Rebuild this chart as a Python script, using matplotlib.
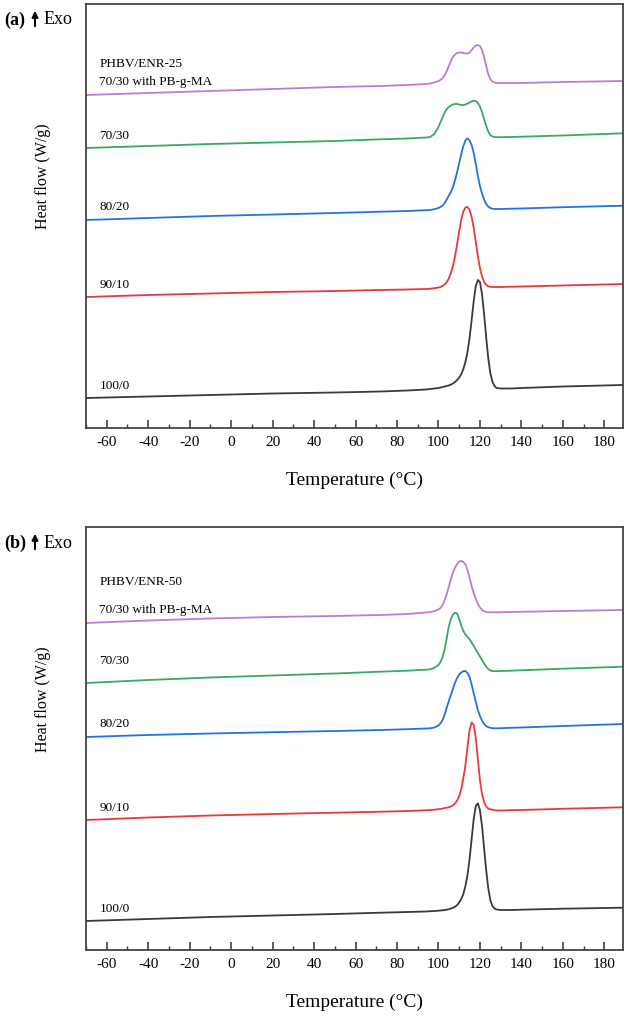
import matplotlib
matplotlib.use("Agg")
import matplotlib.pyplot as plt
from matplotlib.ticker import MultipleLocator

plt.rcParams['font.family'] = ['Liberation Serif', 'DejaVu Serif']
plt.rcParams['axes.unicode_minus'] = False

temperature = [-70, -40, -10, 20, 50, 72, 85, 94, 96, 98,
               100, 101, 102, 103, 104, 105, 106, 107, 108, 109, 110, 111, 112, 113, 114,
               115, 116, 117, 118, 119, 120, 121, 122, 123, 124, 125, 126, 127, 128,
               130, 135, 140, 160, 189]

# Panel (a): PHBV/ENR-25 (arbitrary stacked heat-flow units)
a_pbgma = [333, 335, 337, 339, 341, 342, 343, 344, 344.5, 345.5,
           347, 348, 350, 353, 357, 362, 367, 371, 373.5, 375, 375.5, 375.5, 375, 374.5, 374.5,
           375.5, 378, 380.5, 382.5, 383, 382, 378, 371, 362, 354, 349, 346.5, 345.5, 345,
           345, 345, 345, 346, 347]
a_7030 = [280, 282, 284, 285.5, 287, 288.7, 289.5, 290.5, 291, 294,
          301, 306, 311, 315.5, 319, 321, 322.5, 323.5, 324, 324, 323.5, 323, 323, 323.5, 324.5,
          325.5, 326.5, 327.3, 327, 325, 321.5, 316, 309, 302, 296.5, 293, 291.5, 291, 290.8,
          290.8, 291, 291.3, 292.5, 294.7]
a_8020 = [208, 210, 212, 213.5, 215, 216.3, 217, 217.8, 218, 218.8,
          220, 221, 222.5, 225, 228.5, 232.5, 236, 241, 248, 256, 265, 274, 282, 287.5, 289.7,
          287.5, 283, 275, 264, 252, 242, 234.5, 228.5, 224, 221.5, 220, 219.3, 219, 219,
          219, 219.3, 219.5, 220.8, 222.3]
a_9010 = [131, 133, 134.5, 136, 137, 138, 138.5, 139, 139.3, 139.8,
          140.5, 141, 142, 143.5, 146, 149.5, 155, 162, 172, 184, 197, 208.5, 216.5, 220.5, 221,
          218, 211, 200, 186, 172, 160, 151.5, 146, 143, 141.8, 141.3, 141, 141, 141,
          141, 141.3, 141.5, 142.5, 144]
a_1000 = [30, 31.5, 33, 34.5, 35.5, 36.5, 37.5, 38.5, 39, 39.5,
          40, 40.5, 41, 41.5, 42, 42.5, 43.5, 44.5, 46, 48, 50.5, 54, 59, 66, 76,
          90, 108, 127, 142, 148, 146, 134, 114, 91, 70, 55, 46.5, 42, 40,
          39.5, 39.5, 40, 41.5, 43]

# Panel (b): PHBV/ENR-50
b_pbgma = [327, 329.5, 331.5, 333, 334, 335, 336, 337.5, 338, 338.8,
           340.5, 342, 345, 350, 356, 363.5, 371, 377.5, 382.5, 386, 388.5, 389, 388, 385.5, 380,
           372.5, 364, 357, 351, 346, 342.5, 340, 338.8, 338, 337.8, 337.7, 337.7, 337.7, 337.7,
           337.8, 338, 338.2, 339, 340]
b_7030 = [267, 270, 272.5, 274.5, 276.5, 278.3, 279.3, 280.3, 280.7, 282,
          285, 288, 293, 301, 312, 323.5, 331, 335.5, 337.3, 336.5, 331, 324.5, 319, 315.5, 313,
          310.7, 307.5, 304, 300.5, 297, 293.5, 290, 286.5, 283.5, 281, 279.5, 279, 278.8, 278.8,
          279, 279.3, 279.7, 281.3, 283.3]
b_8020 = [213, 215, 216.5, 217.8, 219, 220, 220.8, 221.5, 221.7, 222.5,
          224.5, 226.7, 230, 235.5, 242.5, 249, 255, 261.5, 267.5, 272, 275.5, 277.5, 278.8, 279, 277,
          273, 265.5, 256.7, 248, 240, 234, 229.5, 226, 224, 222.8, 222.2, 221.8, 221.7, 221.7,
          221.8, 222.2, 222.5, 224, 226]
b_9010 = [130, 132.5, 134.5, 136, 137.3, 138.3, 139, 139.7, 140, 140.3,
          140.8, 141, 141.5, 142, 142.3, 142.7, 143.5, 144.5, 146.5, 149.5, 154, 161, 172, 185, 203,
          220, 227.5, 225, 212, 191, 170, 156, 148, 143.5, 141.5, 140.7, 140.2, 139.8, 139.5,
          139.5, 139.8, 140, 141.2, 142.7]
b_1000 = [29, 31, 33, 34.5, 36, 37.3, 38, 38.5, 38.8, 39,
          39.3, 39.5, 39.7, 40, 40.3, 40.8, 41.5, 42.3, 43.3, 45, 47.5, 51, 56, 64, 75,
          91, 111, 131, 144, 146.7, 140, 124, 102, 80, 62, 50, 44, 41.5, 40.5,
          40, 40, 40.3, 41.3, 42.3]

labels = ["70/30 with PB-g-MA", "70/30", "80/20", "90/10", "100/0"]
colors = ["#b67ce0", "#3aa866", "#2273de", "#e8393c", "#3a3a3a"]

panels = [
    dict(tag="(a)", title="PHBV/ENR-25", series=[a_pbgma, a_7030, a_8020, a_9010, a_1000],
         label_y=[343, 289, 218, 140, 39], title_y=361, ylim=424,
         rect=[86/629, 1-428/1018, 537/629, 424/1018], top=4),
    dict(tag="(b)", title="PHBV/ENR-50", series=[b_pbgma, b_7030, b_8020, b_9010, b_1000],
         label_y=[337, 286, 223, 139, 38], title_y=365, ylim=423,
         rect=[86/629, 1-950/1018, 537/629, 423/1018], top=527),
]

fig = plt.figure(figsize=(6.29, 10.18), dpi=100)
for p in panels:
    ax = fig.add_axes(p["rect"])
    for ys, c in zip(p["series"], colors):
        ax.plot(temperature, ys, color=c, lw=1.3)
    ax.set_xlim(-70, 189)
    ax.set_ylim(0, p["ylim"])
    ax.xaxis.set_major_locator(MultipleLocator(20))
    ax.xaxis.set_minor_locator(MultipleLocator(10))
    ax.tick_params(axis='x', which='major', direction='in', length=6, width=1.1,
                   labelsize=11, pad=6, colors='#333333', labelcolor='black')
    ax.tick_params(axis='x', which='minor', direction='in', length=3, width=1.0, colors='#333333')
    ax.tick_params(axis='x', top=False, which='both')
    ax.set_yticks([])
    for s in ax.spines.values():
        s.set_linewidth(1.3)
        s.set_color('#444444')
    ax.set_xlabel("Temperature (°C)", fontsize=14, labelpad=16)
    ax.text(-63.5, p["title_y"], p["title"], fontsize=9.5, va='baseline', ha='left')
    for lab, ly in zip(labels, p["label_y"]):
        ax.text(-63.5, ly, lab, fontsize=9.5, va='baseline', ha='left')
    top = p["top"]
    fig.text(43/629, 1-(top+172)/1018, "Heat flow (W/g)", rotation=90, fontsize=11.5,
             ha='center', va='center')
    fig.text(4/629, 1-(top+16)/1018, p["tag"], fontsize=13, fontweight='bold',
             ha='left', va='center')
    fig.text(44/629, 1-(top+16)/1018, "Exo", fontsize=13, ha='left', va='center')
    fig.patches.append(matplotlib.patches.FancyArrowPatch(
        (35/629, 1-(top+25)/1018), (35/629, 1-(top+4)/1018),
        transform=fig.transFigure, arrowstyle='-|>', mutation_scale=9,
        lw=1.4, color='black'))

fig.savefig("out.png", dpi=100)
